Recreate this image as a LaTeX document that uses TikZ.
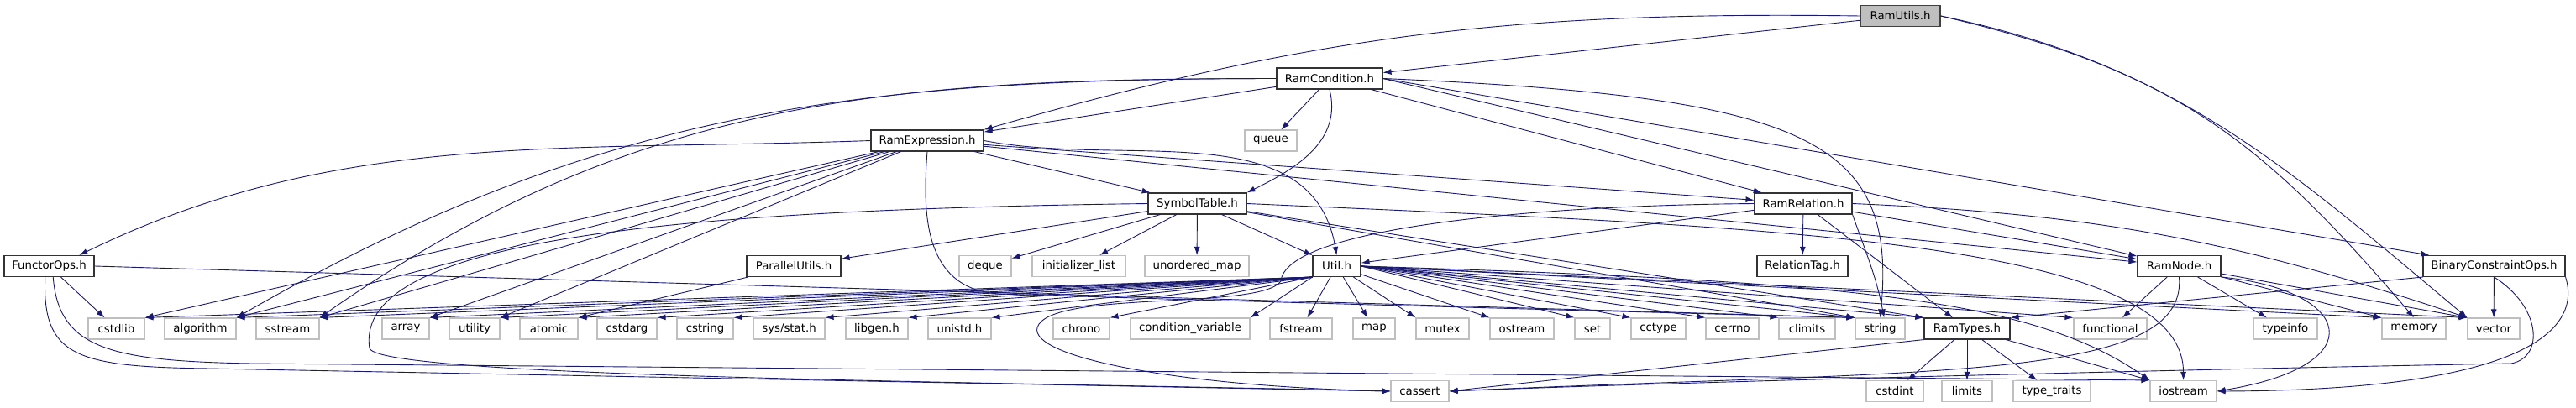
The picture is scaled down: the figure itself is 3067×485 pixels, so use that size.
\documentclass[tikz,border=0pt]{standalone}
\usepackage{fontspec}
\setmainfont{DejaVu Sans}
\usetikzlibrary{arrows.meta}
\definecolor{Ink}{HTML}{191970}
\definecolor{Rim}{HTML}{BFBFBF}
\definecolor{Root}{HTML}{BFBFBF}

\begin{document}
\begin{tikzpicture}[>=Latex, x=1pt, y=1pt,
    hdr/.style={draw=black!80, line width=1.1pt, fill=white, minimum height=25pt, inner sep=0pt, font=\fontsize{13.3}{16}\selectfont},
    sys/.style={hdr, draw=Rim},
    root/.style={hdr, fill=Root, draw=black!75},
    dep/.style={-{Latex[length=10pt,width=7pt]}, draw=Ink, line width=0.9pt}]
    \useasboundingbox (0,0) rectangle (3067,485);
    \node[root, minimum width=95pt] (rutils) at (2262.5,466) {RamUtils.h};
    \node[hdr, minimum width=126pt] (rcond) at (1583,391.5) {RamCondition.h};
    \node[hdr, minimum width=134pt] (rexpr) at (1104,317.5) {RamExpression.h};
    \node[sys, minimum width=62pt] (queue) at (1513,317.5) {queue};
    \node[hdr, minimum width=117pt] (symtab) at (1425.5,242.5) {SymbolTable.h};
    \node[hdr, minimum width=116pt] (rrel) at (2147,242.5) {RamRelation.h};
    \node[hdr, minimum width=107pt] (fops) at (58.5,168) {FunctorOps.h};
    \node[hdr, minimum width=112pt] (putil) at (945,168) {ParallelUtils.h};
    \node[sys, minimum width=62pt] (deque) at (1173,168) {deque};
    \node[sys, minimum width=111pt] (ilist) at (1284.5,168) {initializer\_list};
    \node[sys, minimum width=124pt] (umap) at (1425,168) {unordered\_map};
    \node[hdr, minimum width=57pt] (util) at (1591.5,168) {Util.h};
    \node[hdr, minimum width=108pt] (rtag) at (2146,168) {RelationTag.h};
    \node[hdr, minimum width=99pt] (rnode) at (2594.5,168) {RamNode.h};
    \node[hdr, minimum width=169pt] (binops) at (2969.5,168) {BinaryConstraintOps.h};
    \node[sys, minimum width=67pt] (cstdlib) at (138.5,93.5) {cstdlib};
    \node[sys, minimum width=85pt] (algo) at (238.5,93.5) {algorithm};
    \node[sys, minimum width=75pt] (sstream) at (342.5,93.5) {sstream};
    \node[sys, minimum width=56pt] (array) at (483,93.5) {array};
    \node[sys, minimum width=60pt] (utility) at (565,93.5) {utility};
    \node[sys, minimum width=69pt] (atomic) at (653.5,93.5) {atomic};
    \node[sys, minimum width=71pt] (cstdarg) at (746.5,93.5) {cstdarg};
    \node[sys, minimum width=67pt] (cstring) at (839.5,93.5) {cstring};
    \node[sys, minimum width=85pt] (sysstat) at (939.5,93.5) {sys/stat.h};
    \node[sys, minimum width=74pt] (libgen) at (1044,93.5) {libgen.h};
    \node[sys, minimum width=75pt] (unistd) at (1142.5,93.5) {unistd.h};
    \node[sys, minimum width=67pt] (chrono) at (1287.5,93.5) {chrono};
    \node[sys, minimum width=142pt] (condvar) at (1417,93.5) {condition\_variable};
    \node[sys, minimum width=74pt] (fstream) at (1549,93.5) {fstream};
    \node[sys, minimum width=50pt] (map) at (1636,93.5) {map};
    \node[sys, minimum width=63pt] (mutex) at (1717.5,93.5) {mutex};
    \node[sys, minimum width=76pt] (ostream) at (1812,93.5) {ostream};
    \node[sys, minimum width=42pt] (set) at (1896,93.5) {set};
    \node[sys, minimum width=65pt] (cctype) at (1974.5,93.5) {cctype};
    \node[sys, minimum width=63pt] (cerrno) at (2062.5,93.5) {cerrno};
    \node[sys, minimum width=67pt] (climits) at (2151.5,93.5) {climits};
    \node[sys, minimum width=59pt] (string) at (2238.5,93.5) {string};
    \node[hdr, minimum width=102pt] (rtypes) at (2342,93.5) {RamTypes.h};
    \node[sys, minimum width=87pt] (functional) at (2512.5,93.5) {functional};
    \node[sys, minimum width=76pt] (typeinfo) at (2721,93.5) {typeinfo};
    \node[sys, minimum width=76pt] (memory) at (2874,93.5) {memory};
    \node[sys, minimum width=62pt] (vector) at (2969,93.5) {vector};
    \node[sys, minimum width=69pt] (cassert) at (1690.5,19) {cassert};
    \node[sys, minimum width=68pt] (cstdint) at (2256,19) {cstdint};
    \node[sys, minimum width=60pt] (limits) at (2342,19) {limits};
    \node[sys, minimum width=92pt] (typetraits) at (2443,19) {type\_traits};
    \node[sys, minimum width=79pt] (iostream) at (2599.5,19) {iostream};
    \draw[dep] (rutils) -- (rcond);
    \draw[dep] (rutils.west) .. controls (1792,472) and (1557,441) .. (rexpr.north east);
    \draw[dep] (rutils.east) .. controls (2584,402) and (2689,324) .. (memory.north);
    \draw[dep] (rutils.east) .. controls (2587,409) and (2722,287) .. (vector.north west);
    \draw[dep] (rcond) -- (rexpr);
    \draw[dep] (rcond) -- (queue);
    \draw[dep] (rcond.south) .. controls (1598,318) and (1545,285) .. (symtab.north east);
    \draw[dep] (rcond) -- (rrel);
    \draw[dep] (rcond.east) -- (rnode);
    \draw[dep] (rcond.east) -- (binops);
    \draw[dep] (rcond.east) .. controls (2150,370) and (2260,320) .. (string.north);
    \draw[dep] (rcond.west) .. controls (1022,391) and (712,355) .. (algo.north east);
    \draw[dep] (rcond.west) .. controls (1060,391) and (757,370) .. (sstream.north east);
    \draw[dep] (rexpr.west) .. controls (663,304) and (400,330) .. (fops.20);
    \draw[dep] (rexpr) -- (cstdlib.north east);
    \draw[dep] (rexpr) -- (algo.north east);
    \draw[dep] (rexpr) -- (sstream.north east);
    \draw[dep] (rexpr) -- (array.north east);
    \draw[dep] (rexpr) -- (utility.north east);
    \draw[dep] (rexpr.south) .. controls (1098,230) and (1100,140) .. (1190,135) .. controls (1400,128) and (2000,112) .. (string.north west);
    \draw[dep] (rexpr) -- (symtab);
    \draw[dep] (rexpr) -- (rrel);
    \draw[dep] (rexpr) -- (rnode);
    \draw[dep] (rexpr.east) .. controls (1341,285) and (1562,350) .. (util.north);
    \draw[dep] (symtab) -- (putil);
    \draw[dep] (symtab) -- (deque);
    \draw[dep] (symtab) -- (ilist);
    \draw[dep] (symtab) -- (umap);
    \draw[dep] (symtab) -- (util);
    \draw[dep] (symtab) -- (string.north west);
    \draw[dep] (symtab) -- (rtypes.north west);
    \draw[dep] (symtab.east) .. controls (2100,215) and (2600,200) .. (iostream.north);
    \draw[dep] (symtab.west) .. controls (800,235) and (420,200) .. (440,70) .. controls (455,35) and (1200,30) .. (cassert.west);
    \draw[dep] (putil) -- (atomic.north east);
    \draw[dep] (fops) -- (cstdlib);
    \draw[dep] (fops.east) -- (string.north west);
    \draw[dep] (fops.250) .. controls (50,60) and (90,48) .. (250,46) -- (cassert.west);
    \draw[dep] (fops.290) .. controls (70,70) and (130,55) .. (300,52) -- (iostream.north west);
    \draw[dep] (util.south west) -- (cstdlib.north east);
    \draw[dep] (util.south west) -- (algo.north east);
    \draw[dep] (util.south west) -- (sstream.north east);
    \draw[dep] (util.south west) -- (array.north east);
    \draw[dep] (util.south west) -- (utility.north east);
    \draw[dep] (util.south west) -- (atomic.north east);
    \draw[dep] (util.south west) -- (cstdarg.north east);
    \draw[dep] (util.south west) -- (cstring.north east);
    \draw[dep] (util.south west) -- (sysstat.north east);
    \draw[dep] (util.south west) -- (libgen.north east);
    \draw[dep] (util.south west) -- (unistd.north east);
    \draw[dep] (util.south west) -- (chrono.north east);
    \draw[dep] (util.south west) -- (condvar.north east);
    \draw[dep] (util) -- (fstream);
    \draw[dep] (util) -- (map);
    \draw[dep] (util) -- (mutex.north west);
    \draw[dep] (util) -- (ostream.north west);
    \draw[dep] (util.east) -- (set.north west);
    \draw[dep] (util.east) -- (cctype.north west);
    \draw[dep] (util.east) -- (cerrno.north west);
    \draw[dep] (util.east) -- (climits.north west);
    \draw[dep] (util.east) -- (string.north west);
    \draw[dep] (util.east) -- (rtypes.north west);
    \draw[dep] (util.east) -- (functional.north west);
    \draw[dep] (util.east) -- (memory.north west);
    \draw[dep] (util.east) -- (vector.north west);
    \draw[dep] (util.east) .. controls (2200,150) and (2420,130) .. (iostream.north west);
    \draw[dep] (rrel) -- (util);
    \draw[dep] (rrel) -- (rtag);
    \draw[dep] (rrel.south east) .. controls (2222,183) and (2234,155) .. (string.70);
    \draw[dep] (rrel) -- (rtypes);
    \draw[dep] (rrel) -- (rnode);
    \draw[dep] (rrel.east) .. controls (2497,230) and (2661,199) .. (vector.north west);
    \draw[dep] (rrel.west) .. controls (1800,240) and (1530,210) .. (1525,150) .. controls (1500,115) and (1250,140) .. (1235,95) .. controls (1225,60) and (1400,25) .. (cassert.west);
    \draw[dep] (rnode) -- (functional);
    \draw[dep] (rnode) -- (typeinfo);
    \draw[dep] (rnode) -- (memory.north west);
    \draw[dep] (rnode) -- (vector.north west);
    \draw[dep] (rnode.south east) .. controls (2800,140) and (2830,50) .. (iostream.east);
    \draw[dep] (rnode.south) .. controls (2605,30) and (2300,45) .. (cassert.east);
    \draw[dep] (rtypes) -- (cstdint);
    \draw[dep] (rtypes) -- (limits);
    \draw[dep] (rtypes) -- (typetraits);
    \draw[dep] (rtypes) -- (iostream.north west);
    \draw[dep] (rtypes.south west) -- (cassert.east);
    \draw[dep] (binops.south west) -- (rtypes.north east);
    \draw[dep] (binops) -- (vector);
    \draw[dep] (binops.south) .. controls (3025,120) and (3030,60) .. (2990,52) .. controls (2600,45) and (2000,30) .. (cassert.east);
    \draw[dep] (binops.south east) .. controls (3075,90) and (3000,20) .. (iostream.east);
  \end{tikzpicture}
\end{document}
